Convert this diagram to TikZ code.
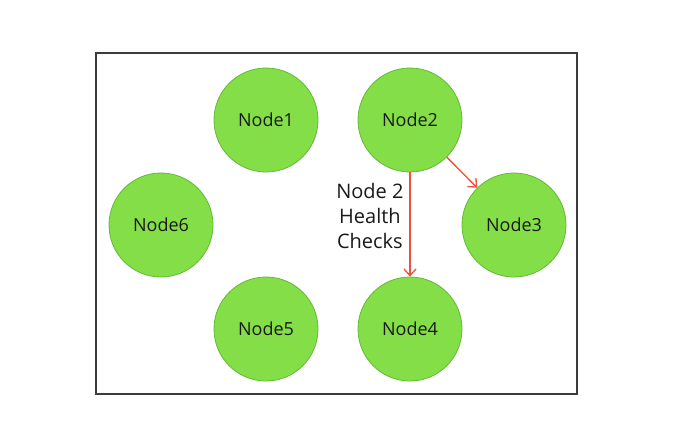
\documentclass[tikz,border=0pt]{standalone}
\usepackage{fontspec}
\setmainfont{Open Sans}
\usetikzlibrary{arrows.meta,positioning}

\definecolor{nodegreen}{RGB}{132,222,72}
\definecolor{nodeedge}{RGB}{98,186,52}
\definecolor{checkred}{RGB}{240,80,60}
\definecolor{framegray}{RGB}{60,60,60}

\begin{document}
\begin{tikzpicture}[x=0.75pt,y=-0.75pt,on grid,node distance=78pt and 78pt,
  >={Straight Barb[length=5pt,width=9pt]},
  main node/.style={circle,fill=nodegreen,draw=nodeedge,line width=0.6pt,
    minimum size=78pt,inner sep=0pt,text=black!90,font=\fontsize{13.5}{16}\selectfont}]

  \useasboundingbox (0,0) rectangle (676,443);
  \draw[framegray,line width=1.2pt] (96,53) rectangle (577,394);

  \node[main node] (n1) at (266,120) {Node1};
  \node[main node] (n2) [right=108pt of n1] {Node2};
  \node[main node] (n3) [below right=78.75pt and 78pt of n2] {Node3};
  \node[main node] (n4) [below left=of n3] {Node4};
  \node[main node] (n5) [left=108pt of n4] {Node5};
  \node[main node] (n6) [above left=78pt and 78.75pt of n5] {Node6};

  \path[->,checkred,line width=1pt,every node/.style={text=black!90,
      font=\fontsize{15}{18.75}\selectfont,align=center}]
         (n2) edge node [left=1pt,pos=0.42] {Node 2\\Health\\Checks} (n4)
              edge node [] {} (n3);

\end{tikzpicture}
\end{document}
